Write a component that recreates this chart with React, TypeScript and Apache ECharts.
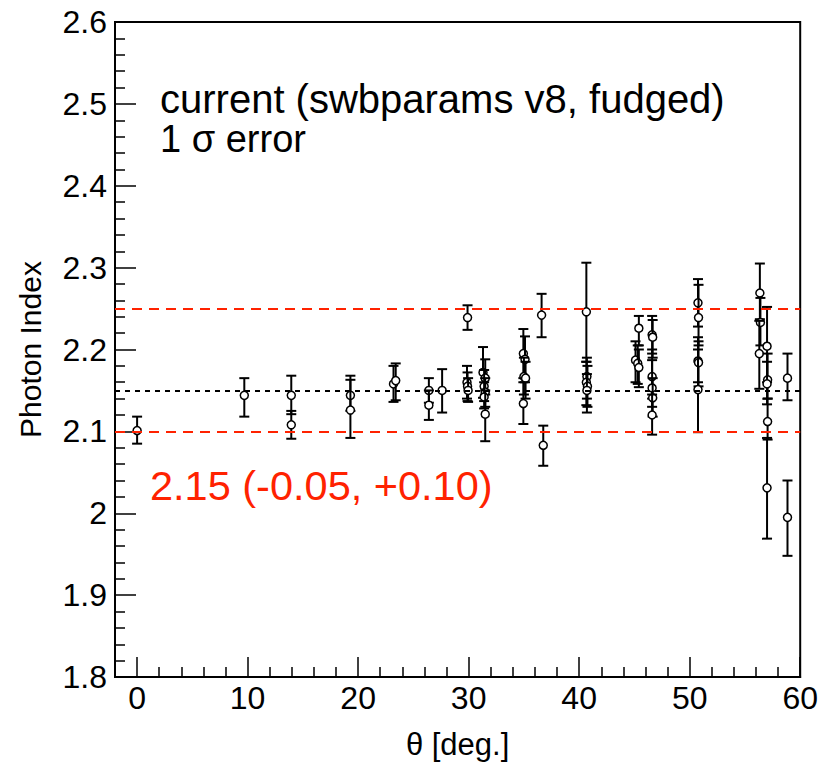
import React, { useEffect, useRef } from "react";
import * as echarts from "echarts";

// θ [deg.] for each measurement
const thetaDeg = [
  0.0, 9.7, 13.95, 13.95, 19.3, 19.3, 23.2, 23.4, 26.4, 26.4, 27.6,
  29.9, 29.85, 29.9, 29.95, 31.3, 31.5, 31.4, 31.5, 31.4, 31.5,
  34.95, 35.1, 35.0, 35.15, 34.95, 36.6, 36.75,
  40.65, 40.7, 40.65, 40.75, 40.7,
  45.4, 45.1, 45.3, 45.4, 46.6, 46.65, 46.6, 46.6, 46.65, 46.6,
  50.75, 50.8, 50.75, 50.8, 50.75,
  56.35, 56.4, 56.3, 57.0, 57.05, 57.0, 57.05, 57.0, 58.85, 58.85,
];
// Photon index (best fit)
const photonIndex = [
  2.101, 2.144, 2.144, 2.108, 2.144, 2.126, 2.158, 2.162, 2.15, 2.132, 2.15,
  2.239, 2.16, 2.155, 2.15, 2.172, 2.165, 2.155, 2.148, 2.142, 2.121,
  2.195, 2.188, 2.167, 2.165, 2.134, 2.242, 2.083,
  2.246, 2.167, 2.16, 2.155, 2.15,
  2.226, 2.187, 2.183, 2.178, 2.218, 2.215, 2.167, 2.153, 2.141, 2.12,
  2.257, 2.239, 2.186, 2.184, 2.151,
  2.269, 2.233, 2.195, 2.204, 2.163, 2.158, 2.112, 2.031, 2.165, 1.995,
];
// 1σ lower bound
const lowerBound = [
  2.085, 2.118, 2.121, 2.091, 2.125, 2.092, 2.136, 2.138, 2.135, 2.114, 2.123,
  2.224, 2.14, 2.137, 2.136, 2.141, 2.145, 2.137, 2.13, 2.128, 2.088,
  2.165, 2.16, 2.145, 2.14, 2.109, 2.215, 2.058,
  2.185, 2.14, 2.132, 2.13, 2.123,
  2.205, 2.16, 2.158, 2.154, 2.195, 2.19, 2.14, 2.13, 2.118, 2.096,
  2.228, 2.205, 2.16, 2.155, 2.099,
  2.237, 2.205, 2.152, 2.16, 2.14, 2.133, 2.09, 1.969, 2.138, 1.948,
];
// 1σ upper bound
const upperBound = [
  2.118, 2.165, 2.168, 2.125, 2.163, 2.168, 2.18, 2.183, 2.165, 2.15, 2.176,
  2.254, 2.18, 2.172, 2.165, 2.203, 2.188, 2.175, 2.165, 2.16, 2.15,
  2.225, 2.216, 2.19, 2.185, 2.16, 2.268, 2.107,
  2.306, 2.19, 2.185, 2.18, 2.17,
  2.241, 2.21, 2.205, 2.2, 2.241, 2.236, 2.2, 2.187, 2.165, 2.145,
  2.286, 2.279, 2.215, 2.21, 2.2,
  2.305, 2.263, 2.235, 2.252, 2.195, 2.185, 2.14, 2.092, 2.195, 2.04,
];

const centralValue = 2.15;
const bandLow = 2.1;
const bandHigh = 2.25;

const majorXTicks = [0, 10, 20, 30, 40, 50, 60];
const minorXTicks = [2, 4, 6, 8, 12, 14, 16, 18, 22, 24, 26, 28, 32, 34, 36, 38, 42, 44, 46, 48, 52, 54, 56, 58];

const headerLine1 = "current (swbparams v8, fudged)";
const headerLine2 = "1 σ error";
const resultLabel = "2.15 (-0.05, +0.10)";

const FONT = "'Liberation Sans', Arial, Helvetica, sans-serif";
const RED = "#ff2200";

export default function App() {
  const ref = useRef<HTMLDivElement>(null);

  useEffect(() => {
    if (!ref.current) return;
    const chart = echarts.init(ref.current, null, { renderer: "svg" });
    const data = thetaDeg.map((x, i) => [x, photonIndex[i], lowerBound[i], upperBound[i]]);

    const option: any = {
      animation: false,
      backgroundColor: "#fff",
      grid: {
        left: 115,
        top: 22,
        right: 13,
        bottom: 106,
        show: true,
        borderColor: "#000",
        borderWidth: 2,
        containLabel: false,
      },
      xAxis: [
        {
          type: "value",
          min: -2,
          max: 60,
          position: "bottom",
          splitLine: { show: false },
          axisLine: { show: true, onZero: false, lineStyle: { color: "#000", width: 2 } },
          axisTick: {
            show: true,
            inside: true,
            length: 20,
            customValues: majorXTicks,
            lineStyle: { color: "#000", width: 1.5 },
          },
          axisLabel: {
            customValues: majorXTicks,
            fontSize: 32,
            fontFamily: FONT,
            color: "#000",
            margin: 5,
          },
          name: "θ [deg.]",
          nameLocation: "middle",
          nameGap: 52,
          nameTextStyle: { fontSize: 31, fontFamily: FONT, color: "#000" },
        },
        {
          type: "value",
          min: -2,
          max: 60,
          position: "bottom",
          splitLine: { show: false },
          axisLine: { show: false, onZero: false },
          axisTick: {
            show: true,
            inside: true,
            length: 10,
            customValues: minorXTicks,
            lineStyle: { color: "#000", width: 1.5 },
          },
          axisLabel: { show: false },
        },
      ],
      yAxis: {
        type: "value",
        min: 1.8,
        max: 2.6,
        interval: 0.1,
        splitLine: { show: false },
        axisLine: { show: true, onZero: false, lineStyle: { color: "#000", width: 2 } },
        axisTick: { show: true, inside: true, length: 21, lineStyle: { color: "#000", width: 1.5 } },
        minorTick: { show: true, splitNumber: 5, length: 10, lineStyle: { color: "#000", width: 1.5 } },
        axisLabel: {
          fontSize: 32,
          fontFamily: FONT,
          color: "#000",
          margin: 8,
          formatter: (v: number) => String(Math.round(v * 10) / 10),
        },
        name: "Photon Index",
        nameLocation: "middle",
        nameGap: 70,
        nameTextStyle: { fontSize: 30, fontFamily: FONT, color: "#000" },
      },
      series: [
        {
          type: "line",
          data: [],
          z: 1,
          markLine: {
            silent: true,
            symbol: "none",
            label: { show: false },
            data: [
              { yAxis: bandHigh, lineStyle: { color: RED, type: [10, 7], width: 2 } },
              { yAxis: centralValue, lineStyle: { color: "#000", type: [5, 5], width: 2 } },
              { yAxis: bandLow, lineStyle: { color: RED, type: [10, 7], width: 2 } },
            ],
          },
        },
        {
          type: "custom",
          z: 2,
          data,
          renderItem: (params: any, api: any) => {
            const x = api.value(0);
            const p = api.coord([x, api.value(1)]);
            const lo = api.coord([x, api.value(2)]);
            const hi = api.coord([x, api.value(3)]);
            const cap = 5;
            const ls = { stroke: "#000", lineWidth: 2 };
            return {
              type: "group",
              children: [
                { type: "line", shape: { x1: p[0], y1: hi[1], x2: p[0], y2: lo[1] }, style: ls },
                { type: "line", shape: { x1: p[0] - cap, y1: hi[1], x2: p[0] + cap, y2: hi[1] }, style: ls },
                { type: "line", shape: { x1: p[0] - cap, y1: lo[1], x2: p[0] + cap, y2: lo[1] }, style: ls },
                {
                  type: "circle",
                  shape: { cx: p[0], cy: p[1], r: 4 },
                  style: { fill: "#fff", stroke: "#000", lineWidth: 1.5 },
                },
              ],
            };
          },
        },
      ],
      graphic: [
        {
          type: "text",
          left: 160,
          top: 79,
          style: { text: headerLine1, fontSize: 40, fontFamily: FONT, fill: "#000" },
        },
        {
          type: "text",
          left: 160,
          top: 120,
          style: { text: headerLine2, fontSize: 38, fontFamily: FONT, fill: "#000" },
        },
        {
          type: "text",
          left: 150,
          top: 464,
          style: { text: resultLabel, fontSize: 41.5, fontFamily: FONT, fill: RED },
        },
      ],
    };
    chart.setOption(option);
    return () => chart.dispose();
  }, []);

  return <div ref={ref} style={{ width: 821, height: 783, position: "absolute", left: 0, top: 0 }} />;
}
